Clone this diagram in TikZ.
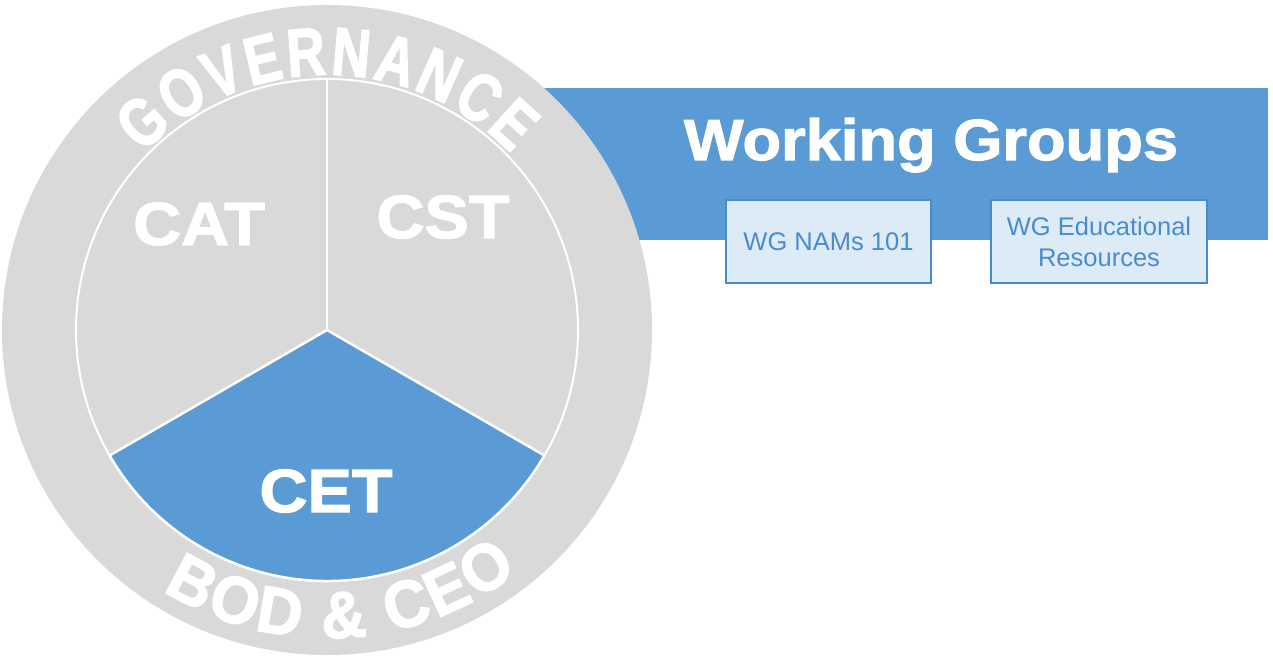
\documentclass[tikz,border=0pt]{standalone}
\usepackage{fontspec}
\setmainfont{Liberation Sans}
\newfontfamily\hvyfont[FakeStretch=1.09,FakeBold=2]{Liberation Sans Bold}
\newfontfamily\govfont[FakeStretch=0.78,FakeBold=2]{Liberation Sans Bold}
\newfontfamily\bodfont[FakeStretch=0.95,FakeBold=2]{Liberation Sans Bold}
\usetikzlibrary{decorations.text,calc}
\definecolor{wgblue}{HTML}{5A9BD6}
\definecolor{ringgray}{HTML}{D9D9D9}
\definecolor{boxfill}{HTML}{DDEBF7}
\definecolor{boxline}{HTML}{4A8AC9}
\definecolor{boxtext}{HTML}{4A8CCB}
\newcommand\govfnt{\govfont\fontsize{68}{70}\selectfont}
\newcommand\bodfnt{\bodfont\fontsize{66}{70}\selectfont}
\tikzset{
  sectorlbl/.style={text=white,font=\hvyfont\fontsize{61}{64}\selectfont,anchor=base,inner sep=0pt},
  wgbox/.style={draw=boxline,line width=1.2pt,fill=boxfill,text=boxtext,
    font=\fontsize{25.5}{31}\selectfont,align=center,inner sep=0pt},
  sepline/.style={white,line width=2.5pt},
}
\begin{document}
\begin{tikzpicture}[x=1pt,y=1pt]
\useasboundingbox (0,0) rectangle (1273,657);
\coordinate (O) at (327,327);
% banner
\fill[wgblue] (450,417) rectangle (1268,569);
\node[text=white,font=\hvyfont\fontsize{58}{60}\selectfont,anchor=base,inner sep=0pt] (wgtitle) at (931,497) {Working Groups};
\node[wgbox,minimum width=205pt,minimum height=83pt] (nams) at (828.5,415.5) {WG NAMs 101};
\node[wgbox,minimum width=216pt,minimum height=83pt] (edu) at (1099,415.5) {WG Educational\\Resources};
% outer ring
\fill[ringgray] (O) circle[radius=325];
\draw[white,line width=2pt] (O) circle[radius=251];
% CET sector
\filldraw[fill=wgblue,draw=white,line width=2.5pt] (O) -- ($(O)+(210:251)$) arc[start angle=210,end angle=330,radius=251] -- cycle;
\draw[sepline] (O) -- ($(O)+(90:251)$);
% labels
\node[sectorlbl] (cat) at (199,412) {CAT};
\node[sectorlbl] (cst) at (443,419) {CST};
\node[sectorlbl] (cet) at (326,145) {CET};
% ring text
\path[decorate,decoration={text along path,text align=center,text color=white,
  text={|\govfnt|G{\kern3.5pt}O{\kern3.5pt}V{\kern3.5pt}E{\kern3.5pt}R{\kern3.5pt}N{\kern3.5pt}A{\kern3.5pt}N{\kern3.5pt}C{\kern3.5pt}E}}]
  ($(O)+(180:255)$) arc[start angle=180,end angle=0,radius=255];
\path[decorate,decoration={text along path,text align=center,text color=white,
  text={|\bodfnt|B{\kern3pt}O{\kern3pt}D{\kern3pt} {\kern3pt}{\&}{\kern3pt} {\kern3pt}C{\kern3pt}E{\kern3pt}O}}]
  ($(O)+(183:308)$) arc[start angle=183,end angle=363,radius=308];
\end{tikzpicture}
\end{document}
